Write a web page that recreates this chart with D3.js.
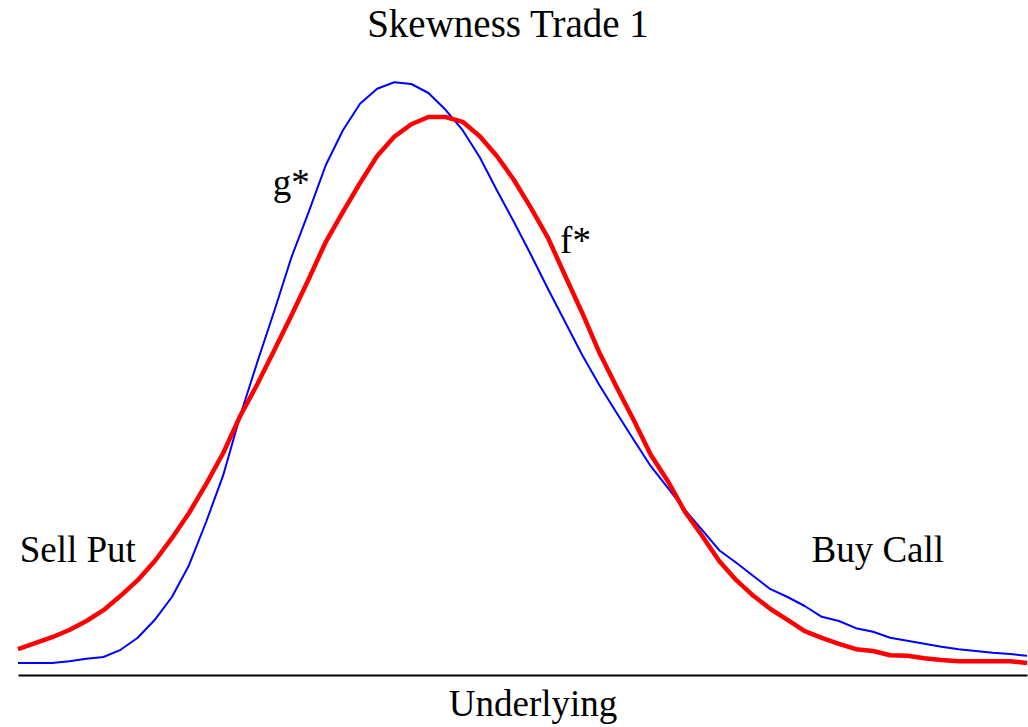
<!DOCTYPE html>
<meta charset="utf-8">
<title>Skewness Trade 1</title>
<style>
body { margin: 0; background: #fff; }
text { font-family: "Liberation Serif", "Times New Roman", serif; fill: #000; }
</style>
<body>
<svg width="1028" height="727"></svg>
<script src="https://d3js.org/d3.v7.min.js"></script>
<script>

// density values, 60 evenly spaced points along the underlying
var gStar = [2.0, 2.0, 2.0, 2.3, 2.7, 3.0, 4.2, 6.2, 9.2, 13.0,
  18.3, 25.5, 33.3, 43.3, 52.2, 60.8, 69.7, 77.2, 85.0, 90.8,
  95.2, 97.7, 98.8, 98.5, 97.0, 94.2, 90.8, 86.3, 80.8, 75.5,
  70.0, 64.3, 58.8, 53.3, 48.3, 43.7, 39.2, 34.8, 31.2, 27.5,
  24.2, 20.8, 18.7, 16.5, 14.3, 13.0, 11.5, 9.7, 9.0, 7.8,
  7.2, 6.2, 5.7, 5.2, 4.7, 4.3, 4.0, 3.7, 3.5, 3.2];

var fStar = [4.3, 5.3, 6.3, 7.5, 9.0, 10.8, 13.2, 15.8, 19.0, 22.8,
  27.0, 31.8, 37.0, 43.2, 48.5, 54.2, 60.0, 66.0, 72.2, 77.2,
  82.0, 86.5, 89.7, 91.8, 93.0, 93.0, 92.2, 89.8, 86.5, 82.5,
  77.8, 72.8, 66.5, 60.3, 53.7, 48.0, 42.5, 36.7, 32.3, 27.2,
  23.2, 19.0, 15.8, 13.2, 11.0, 9.2, 7.3, 6.2, 5.2, 4.3,
  4.0, 3.3, 3.2, 2.8, 2.5, 2.3, 2.3, 2.3, 2.3, 2.0];

// labels placed in data coordinates [index, value]
var notes = [
  { text: "g*", x: 14.9, y: 80 },
  { text: "f*", x: 31.7, y: 70.3 },
  { text: "Sell Put", x: 0.1, y: 18.8 },
  { text: "Buy Call", x: 46.4, y: 18.8 }
];

var svg = d3.select("svg"),
  width = +svg.attr("width"),
  height = +svg.attr("height");

var x = d3.scaleLinear().domain([0, gStar.length - 1]).range([18, 1027]);
var y = d3.scaleLinear().domain([0, 100]).range([675, 75]);

var line = d3.line()
  .x(function(d, i) { return x(i); })
  .y(function(d) { return y(d); });

// axis: bare line along the bottom, no ticks
var axis = d3.axisBottom(x).tickValues([]).tickSizeOuter(0);
svg.append("g")
  .attr("transform", "translate(0," + y(0) + ")")
  .call(axis)
  .call(function(g) { g.select(".domain").attr("stroke", "#000").attr("stroke-width", 2.2); });

svg.append("path")
  .datum(gStar)
  .attr("fill", "none")
  .attr("stroke", "#0000ff")
  .attr("stroke-width", 2)
  .attr("stroke-linejoin", "round")
  .attr("d", line);

svg.append("path")
  .datum(fStar)
  .attr("fill", "none")
  .attr("stroke", "#ff0000")
  .attr("stroke-width", 4.5)
  .attr("stroke-linejoin", "round")
  .attr("d", line);

svg.selectAll(".note")
  .data(notes)
  .enter().append("text")
  .attr("class", "note")
  .attr("x", function(d) { return x(d.x); })
  .attr("y", function(d) { return y(d.y); })
  .attr("font-size", 37)
  .text(function(d) { return d.text; });

svg.append("text")
  .attr("x", 508)
  .attr("y", 37)
  .attr("text-anchor", "middle")
  .attr("font-size", 39)
  .text("Skewness Trade 1");

svg.append("text")
  .attr("x", 533)
  .attr("y", 716)
  .attr("text-anchor", "middle")
  .attr("font-size", 37)
  .text("Underlying");

</script>
</body>
